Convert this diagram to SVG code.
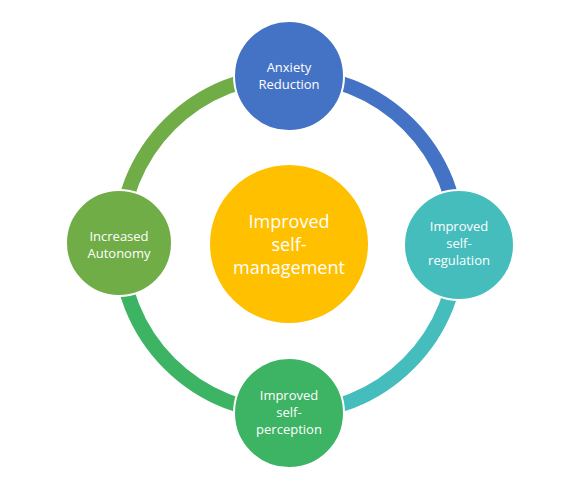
<svg xmlns="http://www.w3.org/2000/svg" width="570" height="489" viewBox="0 0 570 489">
<style>
.arc{fill:none;stroke-width:15}
.node{stroke:#fff;stroke-width:2}
.t{font-family:"Open Sans","Liberation Sans",sans-serif;font-size:13px;fill:#fff;text-anchor:middle}
.c{font-family:"Open Sans","Liberation Sans",sans-serif;font-size:18px;fill:#fff;text-anchor:middle}
</style>
<rect width="570" height="489" fill="#fff"/>
<g id="connectors">
<path class="arc" stroke="#4472C4" d="M289 75 A169 169 0 0 1 458 244"/>
<path class="arc" stroke="#45BDBD" d="M458 244 A169 169 0 0 1 289 413"/>
<path class="arc" stroke="#3DB364" d="M289 413 A169 169 0 0 1 120 244"/>
<path class="arc" stroke="#70AD47" d="M120 244 A169 169 0 0 1 289 75"/>
</g>
<g id="center">
<circle cx="289" cy="244" r="79" fill="#FFC000"/>
<text class="c" x="289" y="228">Improved</text>
<text class="c" x="289" y="251">self-</text>
<text class="c" x="289" y="274">management</text>
</g>
<g id="anxiety">
<circle class="node" cx="289" cy="76" r="55" fill="#4472C4"/>
<text class="t" x="289" y="72">Anxiety</text>
<text class="t" x="289" y="89">Reduction</text>
</g>
<g id="regulation">
<circle class="node" cx="459" cy="245" r="55" fill="#45BDBD"/>
<text class="t" x="459" y="231">Improved</text>
<text class="t" x="459" y="248">self-</text>
<text class="t" x="459" y="265">regulation</text>
</g>
<g id="perception">
<circle class="node" cx="289" cy="413" r="55" fill="#3DB364"/>
<text class="t" x="289" y="400">Improved</text>
<text class="t" x="289" y="417">self-</text>
<text class="t" x="289" y="434">perception</text>
</g>
<g id="autonomy">
<circle class="node" cx="119" cy="243" r="53" fill="#70AD47"/>
<text class="t" x="119" y="241">Increased</text>
<text class="t" x="119" y="258">Autonomy</text>
</g>
</svg>
